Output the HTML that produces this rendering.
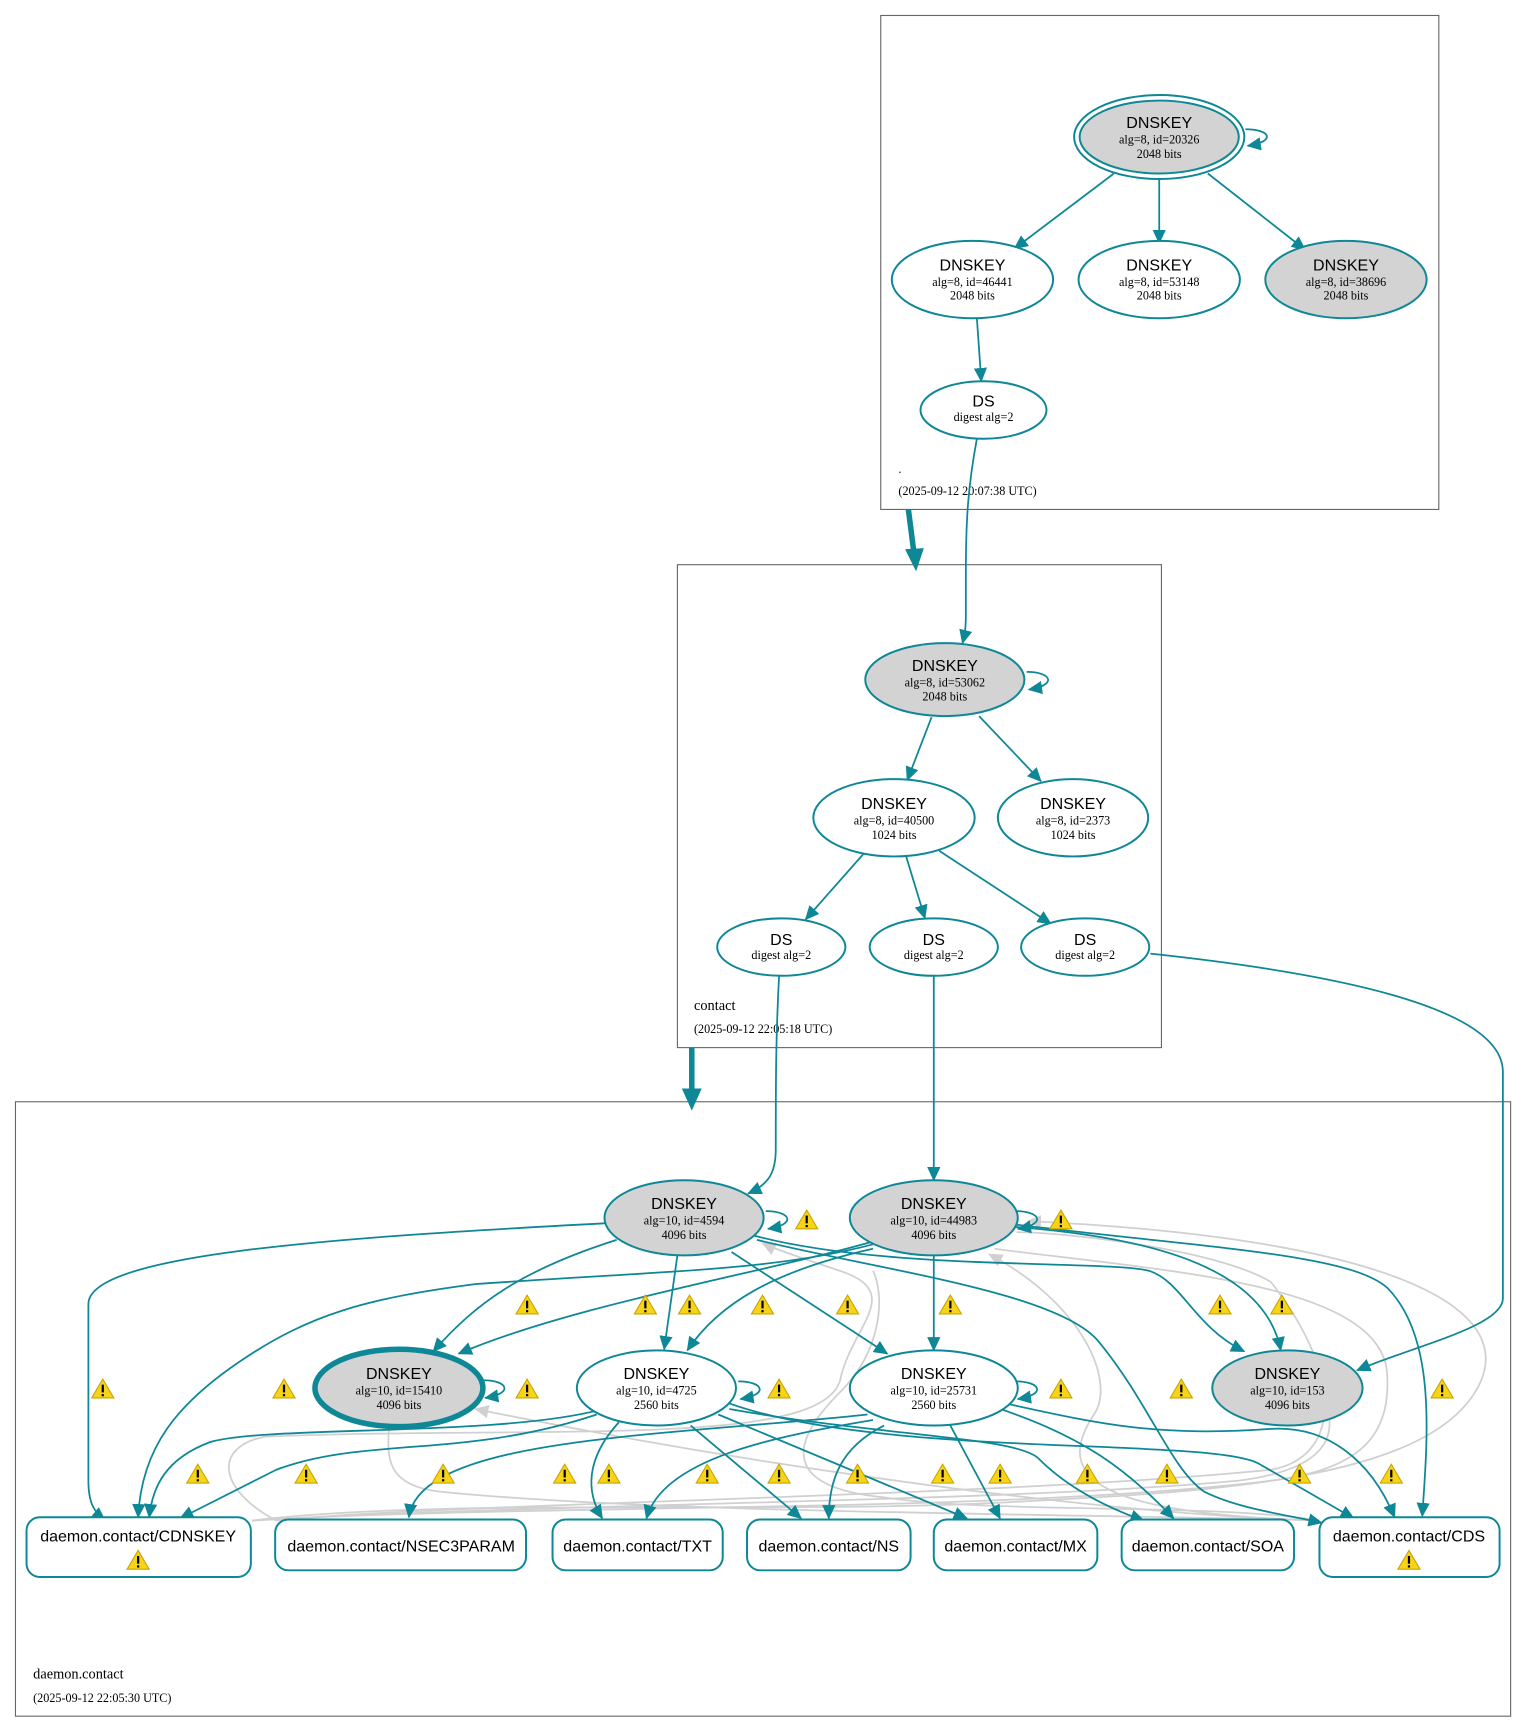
<!DOCTYPE html>
<html><head><meta charset="utf-8"><style>
html,body{margin:0;padding:0;background:#fff}
svg{display:block}
.t{font-family:"Liberation Sans",sans-serif;font-size:14.5px;fill:#000}
.s{font-family:"Liberation Serif",serif;font-size:11px;fill:#000}
.e{fill:none;stroke:#0e8796;stroke-width:1.6}
.g{fill:none;stroke:#d0d0d0;stroke-width:1.6}
.n{stroke:#0e8796;stroke-width:1.8}
</style></head><body>
<svg width="1525" height="1730" viewBox="0 0 1380 1565.5" xmlns="http://www.w3.org/2000/svg">
<defs>
<marker id="a" markerUnits="userSpaceOnUse" markerWidth="14" markerHeight="12" refX="12" refY="6" orient="auto"><path d="M0,0 L13,6 L0,12 z" fill="#0e8796"/></marker>
<marker id="ag" markerUnits="userSpaceOnUse" markerWidth="14" markerHeight="12" refX="12" refY="6" orient="auto"><path d="M0,0 L13,6 L0,12 z" fill="#d0d0d0"/></marker>
<g id="w"><path d="M0,-9 L10,8 L-10,8 z" fill="#f7d417" stroke="#c9a400" stroke-width="1"/><rect x="-1" y="-4" width="2" height="7" fill="#000"/><rect x="-1" y="4.5" width="2" height="2" fill="#000"/></g>
</defs>

<rect x="797" y="14" width="505" height="447" fill="none" stroke="#666" stroke-width="1"/>
<text class="s" x="813" y="428">.</text>
<text class="s" x="813" y="448">(2025-09-12 20:07:38 UTC)</text>
<rect x="613" y="511" width="438" height="437" fill="none" stroke="#666" stroke-width="1"/>
<text class="s" x="628" y="914" style="font-size:13px">contact</text>
<text class="s" x="628" y="935">(2025-09-12 22:05:18 UTC)</text>
<rect x="14" y="997" width="1353" height="556" fill="none" stroke="#666" stroke-width="1"/>
<text class="s" x="30" y="1519" style="font-size:13px">daemon.contact</text>
<text class="s" x="30" y="1540">(2025-09-12 22:05:30 UTC)</text>

<path d="M822,461 L827,500" stroke="#0e8796" stroke-width="5" fill="none"/><path d="M819,497 L836,496 L829,517 z" fill="#0e8796"/>
<path d="M626,948 L626,988" stroke="#0e8796" stroke-width="5" fill="none"/><path d="M617,985 L635,985 L626,1005 z" fill="#0e8796"/>

<g class="g">
<path d="M228,1376 C400,1355 700,1370 900,1360 C1100,1350 1300,1340 1340,1250 C1370,1180 1250,1120 930,1105" marker-end="url(#ag)"/>
<path d="M228,1376 C500,1360 900,1370 1150,1340 C1230,1330 1260,1300 1255,1240 C1245,1160 1050,1150 900,1130" />
<path d="M228,1376 C500,1360 900,1360 1120,1340 C1200,1330 1210,1300 1200,1270" />
<path d="M250,1376 C200,1350 190,1310 240,1300 C500,1290 740,1310 760,1250 C770,1200 820,1170 760,1150 C730,1140 700,1130 690,1125" marker-end="url(#ag)"/>
<path d="M1194,1376 C1100,1360 900,1370 800,1355 C700,1345 720,1300 760,1260 C800,1220 800,1170 790,1150" />
<path d="M1194,1376 C1000,1370 950,1340 990,1280 C1010,1250 980,1180 895,1135" marker-end="url(#ag)"/>
<path d="M1194,1376 C1000,1370 600,1370 400,1350 C350,1345 350,1320 352,1292" />
<path d="M1194,1376 C1000,1370 700,1330 430,1275" marker-end="url(#ag)"/>
<path d="M250,1376 C400,1360 900,1355 1150,1330 C1210,1320 1220,1250 1150,1160 C1100,1130 960,1115 920,1115"/>
</g>

<g class="e">
<path d="M884,397 C876,440 874,470 874,520 L874,560 C874,572 872,578 871,582" marker-end="url(#a)"/>
<path d="M1008,157 L918,225" marker-end="url(#a)"/>
<path d="M1049,162 L1049,220" marker-end="url(#a)"/>
<path d="M1093,157 L1181,226" marker-end="url(#a)"/>
<path d="M884,288 L888,345" marker-end="url(#a)"/>
<path d="M1127,117 C1150,117 1155,128 1129,132" marker-end="url(#a)"/>
<path d="M843,649 L821,706" marker-end="url(#a)"/>
<path d="M886,648 L942,707" marker-end="url(#a)"/>
<path d="M929,608 C952,608 957,620 931,624" marker-end="url(#a)"/>
<path d="M782,772 L729,832" marker-end="url(#a)"/>
<path d="M820,775 L837,831" marker-end="url(#a)"/>
<path d="M850,770 L951,836" marker-end="url(#a)"/>
<path d="M705,883 C702,940 702,980 702,1040 C702,1062 695,1072 677,1080" marker-end="url(#a)"/>
<path d="M845,883 L845,1068" marker-end="url(#a)"/>
<path d="M1041,863 C1200,880 1360,910 1360,970 L1360,1175 C1360,1200 1280,1218 1228,1240" marker-end="url(#a)"/>
<path d="M693,1096 C716,1096 721,1108 695,1112" marker-end="url(#a)"/>
<path d="M547,1107 C300,1120 80,1135 80,1180 L80,1340 C80,1360 85,1368 95,1376" marker-end="url(#a)"/>
<path d="M558,1122 C470,1150 430,1180 392,1223" marker-end="url(#a)"/>
<path d="M613,1136 L601,1221" marker-end="url(#a)"/>
<path d="M662,1133 L803,1225" marker-end="url(#a)"/>
<path d="M682,1118 C800,1150 1000,1140 1040,1150 C1070,1160 1080,1200 1126,1223" marker-end="url(#a)"/>
<path d="M685,1122 C800,1150 960,1170 995,1215 C1040,1270 1060,1330 1090,1350 C1120,1365 1160,1370 1196,1378" marker-end="url(#a)"/>
<path d="M919,1096 C942,1096 947,1108 921,1112" marker-end="url(#a)"/>
<path d="M795,1122 C700,1150 520,1180 415,1225" marker-end="url(#a)"/>
<path d="M790,1126 C700,1150 600,1150 430,1162 C330,1175 280,1190 220,1230 C160,1270 128,1310 125,1373" marker-end="url(#a)"/>
<path d="M790,1130 C700,1150 650,1180 622,1222" marker-end="url(#a)"/>
<path d="M845,1136 L845,1222" marker-end="url(#a)"/>
<path d="M915,1110 C1050,1120 1145,1150 1159,1222" marker-end="url(#a)"/>
<path d="M918,1108 C1100,1130 1220,1135 1255,1165 C1300,1210 1292,1300 1287,1372" marker-end="url(#a)"/>
<path d="M437,1249 C460,1249 465,1261 439,1265" marker-end="url(#a)"/>
<path d="M668,1250 C691,1250 696,1262 670,1266" marker-end="url(#a)"/>
<path d="M540,1280 C420,1320 330,1300 250,1330 L163,1374" marker-end="url(#a)"/>
<path d="M542,1276 C450,1300 240,1290 190,1305 C150,1320 138,1345 135,1373" marker-end="url(#a)"/>
<path d="M560,1287 C530,1320 530,1350 545,1374" marker-end="url(#a)"/>
<path d="M625,1290 L725,1374" marker-end="url(#a)"/>
<path d="M650,1280 L875,1374" marker-end="url(#a)"/>
<path d="M660,1270 C800,1320 1100,1300 1140,1325 L1225,1374" marker-end="url(#a)"/>
<path d="M660,1275 C800,1300 920,1300 940,1320 C960,1340 990,1360 1035,1376" marker-end="url(#a)"/>
<path d="M919,1250 C942,1250 947,1262 921,1266" marker-end="url(#a)"/>
<path d="M785,1280 C600,1300 380,1300 370,1373" marker-end="url(#a)"/>
<path d="M790,1285 C700,1300 600,1320 585,1374" marker-end="url(#a)"/>
<path d="M800,1290 C760,1310 750,1340 750,1374" marker-end="url(#a)"/>
<path d="M860,1290 L905,1374" marker-end="url(#a)"/>
<path d="M905,1275 C980,1300 1020,1330 1062,1374" marker-end="url(#a)"/>
<path d="M910,1270 C1000,1290 1050,1300 1150,1293 C1200,1290 1240,1320 1262,1373" marker-end="url(#a)"/>
</g>

<g class="n">
<ellipse cx="1049" cy="124" rx="77" ry="38" fill="none"/>
<ellipse cx="1049" cy="124" rx="72" ry="33" fill="#d3d3d3"/>
<ellipse cx="880" cy="253" rx="73" ry="35" fill="#fff"/>
<ellipse cx="1049" cy="253" rx="73" ry="35" fill="#fff"/>
<ellipse cx="1218" cy="253" rx="73" ry="35" fill="#d3d3d3"/>
<ellipse cx="890" cy="371" rx="57" ry="26" fill="#fff"/>
<ellipse cx="855" cy="615" rx="72" ry="33" fill="#d3d3d3"/>
<ellipse cx="809" cy="740" rx="73" ry="35" fill="#fff"/>
<ellipse cx="971" cy="740" rx="68" ry="35" fill="#fff"/>
<ellipse cx="707" cy="857" rx="58" ry="26" fill="#fff"/>
<ellipse cx="845" cy="857" rx="58" ry="26" fill="#fff"/>
<ellipse cx="982" cy="857" rx="58" ry="26" fill="#fff"/>
<ellipse cx="619" cy="1102" rx="72" ry="34" fill="#d3d3d3"/>
<ellipse cx="845" cy="1102" rx="76" ry="34" fill="#d3d3d3"/>
<ellipse cx="361" cy="1256" rx="76" ry="35" fill="#d3d3d3" stroke-width="5"/>
<ellipse cx="594" cy="1256" rx="72" ry="34" fill="#fff"/>
<ellipse cx="845" cy="1256" rx="76" ry="34" fill="#fff"/>
<ellipse cx="1165" cy="1256" rx="68" ry="34" fill="#d3d3d3"/>
<rect x="24" y="1373" width="203" height="54" rx="12" fill="#fff"/>
<rect x="249" y="1375" width="227" height="46" rx="12" fill="#fff"/>
<rect x="500" y="1375" width="154" height="46" rx="12" fill="#fff"/>
<rect x="676" y="1375" width="148" height="46" rx="12" fill="#fff"/>
<rect x="845" y="1375" width="148" height="46" rx="12" fill="#fff"/>
<rect x="1015" y="1375" width="156" height="46" rx="12" fill="#fff"/>
<rect x="1194" y="1373" width="163" height="54" rx="12" fill="#fff"/>
</g>

<g text-anchor="middle">
<text class="t" x="1049" y="116">DNSKEY</text><text class="s" x="1049" y="130">alg=8, id=20326</text><text class="s" x="1049" y="143">2048 bits</text>
<text class="t" x="880" y="245">DNSKEY</text><text class="s" x="880" y="259">alg=8, id=46441</text><text class="s" x="880" y="271">2048 bits</text>
<text class="t" x="1049" y="245">DNSKEY</text><text class="s" x="1049" y="259">alg=8, id=53148</text><text class="s" x="1049" y="271">2048 bits</text>
<text class="t" x="1218" y="245">DNSKEY</text><text class="s" x="1218" y="259">alg=8, id=38696</text><text class="s" x="1218" y="271">2048 bits</text>
<text class="t" x="890" y="368">DS</text><text class="s" x="890" y="381">digest alg=2</text>
<text class="t" x="855" y="607">DNSKEY</text><text class="s" x="855" y="621">alg=8, id=53062</text><text class="s" x="855" y="634">2048 bits</text>
<text class="t" x="809" y="732">DNSKEY</text><text class="s" x="809" y="746">alg=8, id=40500</text><text class="s" x="809" y="759">1024 bits</text>
<text class="t" x="971" y="732">DNSKEY</text><text class="s" x="971" y="746">alg=8, id=2373</text><text class="s" x="971" y="759">1024 bits</text>
<text class="t" x="707" y="855">DS</text><text class="s" x="707" y="868">digest alg=2</text>
<text class="t" x="845" y="855">DS</text><text class="s" x="845" y="868">digest alg=2</text>
<text class="t" x="982" y="855">DS</text><text class="s" x="982" y="868">digest alg=2</text>
<text class="t" x="619" y="1094">DNSKEY</text><text class="s" x="619" y="1108">alg=10, id=4594</text><text class="s" x="619" y="1121">4096 bits</text>
<text class="t" x="845" y="1094">DNSKEY</text><text class="s" x="845" y="1108">alg=10, id=44983</text><text class="s" x="845" y="1121">4096 bits</text>
<text class="t" x="361" y="1248">DNSKEY</text><text class="s" x="361" y="1262">alg=10, id=15410</text><text class="s" x="361" y="1275">4096 bits</text>
<text class="t" x="594" y="1248">DNSKEY</text><text class="s" x="594" y="1262">alg=10, id=4725</text><text class="s" x="594" y="1275">2560 bits</text>
<text class="t" x="845" y="1248">DNSKEY</text><text class="s" x="845" y="1262">alg=10, id=25731</text><text class="s" x="845" y="1275">2560 bits</text>
<text class="t" x="1165" y="1248">DNSKEY</text><text class="s" x="1165" y="1262">alg=10, id=153</text><text class="s" x="1165" y="1275">4096 bits</text>
<text class="t" x="125" y="1395">daemon.contact/CDNSKEY</text>
<text class="t" x="363" y="1404">daemon.contact/NSEC3PARAM</text>
<text class="t" x="577" y="1404">daemon.contact/TXT</text>
<text class="t" x="750" y="1404">daemon.contact/NS</text>
<text class="t" x="919" y="1404">daemon.contact/MX</text>
<text class="t" x="1093" y="1404">daemon.contact/SOA</text>
<text class="t" x="1275" y="1395">daemon.contact/CDS</text>
</g>

<use href="#w" x="730" y="1104"/><use href="#w" x="960" y="1104"/>
<use href="#w" x="477" y="1181"/><use href="#w" x="584" y="1181"/><use href="#w" x="624" y="1181"/><use href="#w" x="690" y="1181"/><use href="#w" x="767" y="1181"/><use href="#w" x="860" y="1181"/><use href="#w" x="1104" y="1181"/><use href="#w" x="1160" y="1181"/>
<use href="#w" x="93" y="1257"/><use href="#w" x="257" y="1257"/><use href="#w" x="477" y="1257"/><use href="#w" x="705" y="1257"/><use href="#w" x="960" y="1257"/><use href="#w" x="1069" y="1257"/><use href="#w" x="1305" y="1257"/>
<use href="#w" x="179" y="1334"/><use href="#w" x="277" y="1334"/><use href="#w" x="401" y="1334"/><use href="#w" x="511" y="1334"/><use href="#w" x="551" y="1334"/><use href="#w" x="640" y="1334"/><use href="#w" x="705" y="1334"/><use href="#w" x="776" y="1334"/><use href="#w" x="853" y="1334"/><use href="#w" x="905" y="1334"/><use href="#w" x="984" y="1334"/><use href="#w" x="1056" y="1334"/><use href="#w" x="1176" y="1334"/><use href="#w" x="1259" y="1334"/>
<use href="#w" x="125" y="1412"/><use href="#w" x="1275" y="1412"/>
</svg>
</body></html>
